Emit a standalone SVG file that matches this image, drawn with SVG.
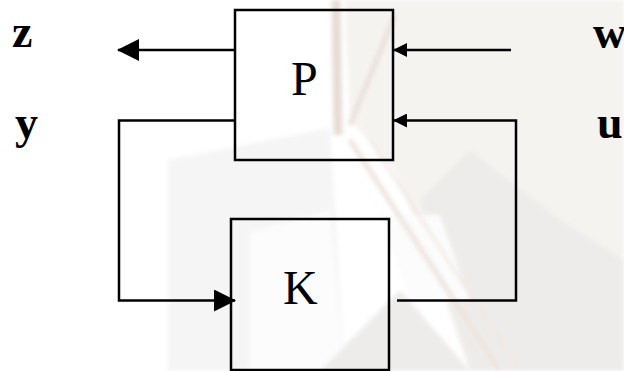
<svg xmlns="http://www.w3.org/2000/svg" width="624" height="371" viewBox="0 0 624 371">
  <defs>
    <style>
      .box { fill: none; stroke: #000; stroke-width: 2.5; }
      .wire { fill: none; stroke: #000; stroke-width: 2.5; }
      .lbl { font-family: "Liberation Serif", "Times New Roman", serif; font-weight: bold; font-size: 46px; fill: #000; }
      .name { font-family: "Liberation Serif", "Times New Roman", serif; font-size: 48px; fill: #000; }
    </style>
    <filter id="soft" x="-5%" y="-5%" width="110%" height="110%">
      <feGaussianBlur stdDeviation="2"/>
    </filter>
    <marker id="bigHead" viewBox="0 0 22 22" refX="21" refY="11" markerWidth="22" markerHeight="22" markerUnits="userSpaceOnUse" orient="auto">
      <path d="M0,0 L22,11 L0,22 Z" fill="#000"/>
    </marker>
    <marker id="smallHead" viewBox="0 0 14 14" refX="13" refY="7" markerWidth="14" markerHeight="14" markerUnits="userSpaceOnUse" orient="auto">
      <path d="M0,0 L14,7 L0,14 Z" fill="#000"/>
    </marker>
  </defs>

  <!-- faint slide backdrop -->
  <rect x="0" y="0" width="624" height="371" fill="#ffffff"/>
  <g id="backdrop" filter="url(#soft)">
    <polygon points="168,160 330,128 345,371 168,371" fill="#f5f5f5"/>
    <polygon points="250,232 330,210 345,371 250,371" fill="#fcfcfc"/>
    <polygon points="345,0 624,0 624,371 470,371 430,260 395,170 350,120" fill="#f5f3f0"/>
    <polygon points="420,200 470,150 560,220 624,260 624,371 470,371" fill="#eeecea"/>
    <polygon points="380,215 440,215 470,300 410,300" fill="#fcfcfc"/>
    <polygon points="320,371 400,290 470,371" fill="#eeecea"/>
    <line x1="336" y1="0" x2="338" y2="135" stroke="#e6dcd5" stroke-width="9"/>
    <line x1="395" y1="15" x2="350" y2="125" stroke="#e9e0da" stroke-width="5"/>
    <line x1="350" y1="140" x2="500" y2="371" stroke="#eee3de" stroke-width="5"/>
    <line x1="370" y1="140" x2="520" y2="371" stroke="#f0e7e2" stroke-width="3"/>
  </g>

  <g id="connectors">
    <!-- z output -->
    <line class="wire" x1="235" y1="50" x2="118" y2="50" marker-end="url(#bigHead)"/>
    <!-- y feedback to K -->
    <polyline class="wire" points="235,120.5 119,120.5 119,300.5 235,300.5" marker-end="url(#bigHead)"/>
    <!-- w input -->
    <line class="wire" x1="511" y1="50" x2="394" y2="50" marker-end="url(#smallHead)"/>
    <!-- u from K back to P -->
    <polyline class="wire" points="397,300.5 516,300.5 516,120.5 394,120.5" marker-end="url(#smallHead)"/>
  </g>

  <g id="P">
    <rect class="box" x="235" y="10" width="158" height="150"/>
    <text class="name" x="291" y="95">P</text>
  </g>

  <g id="K">
    <rect class="box" x="231" y="219" width="158" height="151"/>
    <text class="name" x="283" y="304">K</text>
  </g>

  <g id="labels">
    <text class="lbl" x="12" y="47">z</text>
    <text class="lbl" x="15" y="138">y</text>
    <text class="lbl" x="593" y="48">w</text>
    <text class="lbl" x="597" y="138">u</text>
  </g>
</svg>
